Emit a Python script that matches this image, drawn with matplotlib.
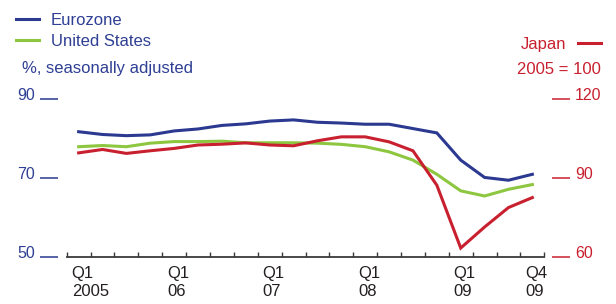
import matplotlib.pyplot as plt
from matplotlib.ticker import FixedLocator
from matplotlib.transforms import ScaledTranslation

plt.rcParams['font.family'] = ['Liberation Sans', 'DejaVu Sans']

# quarterly data, 2005 Q1 .. 2009 Q4
quarters = [f'{y} Q{q}' for y in range(2005, 2010) for q in range(1, 5)]
eurozone = [81.7, 81.0, 80.7, 80.9, 81.9, 82.4, 83.3, 83.7, 84.4, 84.7,
            84.1, 83.9, 83.6, 83.6, 82.5, 81.4, 74.5, 70.1, 69.4, 70.9]
united_states = [77.9, 78.2, 77.9, 78.8, 79.2, 79.2, 79.3, 78.9, 78.9, 78.9,
                 78.8, 78.5, 77.9, 76.6, 74.5, 70.9, 66.7, 65.4, 67.1, 68.3]
japan = [99.5, 100.8, 99.3, 100.3, 101.2, 102.5, 102.8, 103.3, 102.5, 102.2,
         104.1, 105.6, 105.6, 103.7, 100.3, 87.2, 63.3, 71.3, 78.7, 82.5]

label_pos = [0, 4, 8, 12, 16, 19]
label_txt = ['Q1\n2005', 'Q1\n06', 'Q1\n07', 'Q1\n08', 'Q1\n09', 'Q4\n09']
left_ticks = [50, 70, 90]
right_ticks = [60, 90, 120]

BLUE = '#2b3990'
GREEN = '#8dc63f'
RED = '#c8202f'
TXT_BLUE = '#2e3f94'
GREY = '#3a3a3a'

W, H = 616, 304
fig = plt.figure(figsize=(W / 100, H / 100), dpi=100)
ax = fig.add_axes([66.7 / W, 1 - 256.7 / H, 477.6 / W, 157.7 / H])
ax2 = ax.twinx()

x = list(range(len(quarters)))
l_ez, = ax.plot(x, eurozone, color=BLUE, lw=2.2, solid_joinstyle='miter', label='Eurozone')
l_us, = ax.plot(x, united_states, color=GREEN, lw=2.2, solid_joinstyle='miter', label='United States')
l_jp, = ax2.plot(x, japan, color=RED, lw=2.2, solid_joinstyle='miter', label='Japan')
ax2.set_zorder(ax.get_zorder() + 1)
ax2.patch.set_visible(False)

ax.set_xlim(-0.5, len(quarters) - 0.5)
ax.set_ylim(50, 90)
ax2.set_ylim(60, 120)

for a in (ax, ax2):
    for s in ('top', 'left', 'right', 'bottom'):
        a.spines[s].set_visible(False)
ax.spines['bottom'].set_visible(True)
ax.spines['bottom'].set_color(GREY)
ax.spines['bottom'].set_linewidth(1.3)

# x axis: small inward ticks between quarters, left-aligned labels
ax.xaxis.set_minor_locator(FixedLocator([i - 0.5 for i in range(len(quarters) + 1)]))
ax.tick_params(axis='x', which='minor', direction='in', length=3.5, width=1.0, color=GREY)
ax.set_xticks(label_pos)
ax.set_xticklabels(label_txt, ha='left', linespacing=1.25)
ax.tick_params(axis='x', which='major', length=0, pad=7, labelsize=12, labelcolor='#231f20')
shift = ScaledTranslation(-0.07, 0, fig.dpi_scale_trans)
for t in ax.get_xticklabels():
    t.set_transform(t.get_transform() + shift)

# y axes: detached dash ticks with labels sitting just above
ax.spines['left'].set_position(('outward', 6.5))
ax.set_yticks(left_ticks)
ax.tick_params(axis='y', direction='out', length=12.7, width=1.1, color=BLUE,
               labelcolor=TXT_BLUE, labelsize=11.5, pad=3.6)
ax2.spines['right'].set_position(('outward', 5.5))
ax2.set_yticks(right_ticks)
ax2.tick_params(axis='y', direction='out', length=13, width=1.1, color=RED,
                labelcolor=RED, labelsize=11.5, pad=3.6)
up = ScaledTranslation(0, 0.05, fig.dpi_scale_trans)
for t in ax.get_yticklabels() + ax2.get_yticklabels():
    t.set_transform(t.get_transform() + up)

# legends and unit notes
leg1 = fig.legend(handles=[l_ez, l_us], loc='upper left', bbox_to_anchor=(16 / W, 1 - 13 / H),
                  frameon=False, fontsize=12, handlelength=1.4, handletextpad=0.7,
                  labelspacing=0.35, borderpad=0, borderaxespad=0, labelcolor=TXT_BLUE)
leg2 = fig.legend(handles=[l_jp], loc='upper right', bbox_to_anchor=(601 / W, 1 - 37 / H),
                  frameon=False, fontsize=12, handlelength=1.4, handletextpad=0.7,
                  markerfirst=False, borderpad=0, borderaxespad=0, labelcolor=RED)
fig.text(22 / W, 1 - 68 / H, '%, seasonally adjusted', color=TXT_BLUE, fontsize=12,
         ha='left', va='center')
fig.text(601 / W, 1 - 69 / H, '2005 = 100', color=RED, fontsize=12,
         ha='right', va='center')

fig.savefig('out.png', dpi=100)
